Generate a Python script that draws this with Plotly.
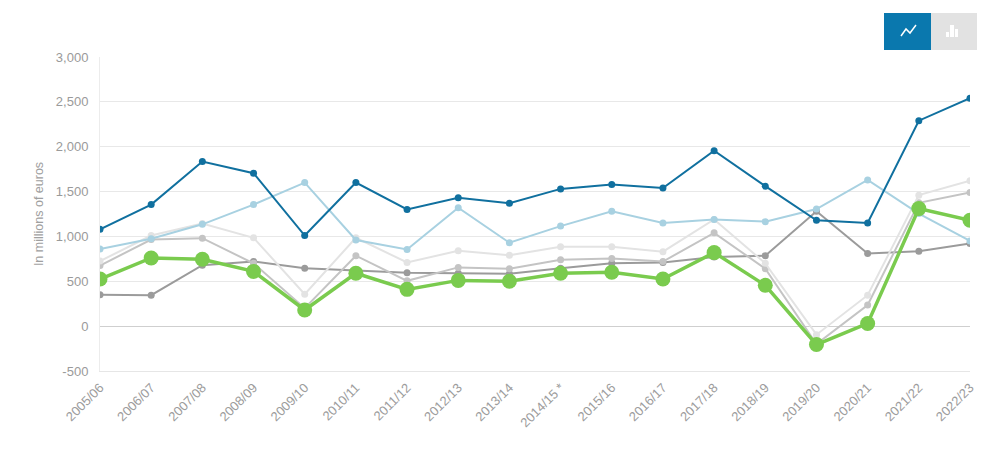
import plotly.graph_objects as go

# Fiscal years on the x axis
years = ["2005/06", "2006/07", "2007/08", "2008/09", "2009/10", "2010/11",
         "2011/12", "2012/13", "2013/14", "2014/15 *", "2015/16", "2016/17",
         "2017/18", "2018/19", "2019/20", "2020/21", "2021/22", "2022/23"]

# Series values in millions of euros
dark_grey = [350, 345, 680, 720, 645, 620, 595, 590, 585, 645, 700, 710,
             770, 785, 1280, 810, 835, 920]
mid_grey = [675, 965, 980, 700, 200, 785, 505, 655, 640, 740, 755, 720,
            1040, 640, -200, 235, 1375, 1490]
light_grey = [725, 1010, 1145, 985, 355, 985, 710, 840, 790, 885, 885, 830,
              1190, 700, -95, 345, 1460, 1620]
light_blue = [860, 975, 1135, 1355, 1600, 960, 855, 1320, 930, 1115, 1280, 1150,
              1190, 1165, 1305, 1630, 1255, 950]
dark_blue = [1080, 1355, 1835, 1705, 1010, 1600, 1300, 1430, 1370, 1530, 1580, 1540,
             1955, 1560, 1180, 1150, 2290, 2540]
green = [525, 760, 745, 610, 180, 590, 410, 510, 500, 590, 600, 525,
         820, 455, -205, 30, 1310, 1180]

y_ticks = [-500, 0, 500, 1000, 1500, 2000, 2500, 3000]
y_labels = [f"{v:,}" for v in y_ticks]

fig = go.Figure()

series = [
    (dark_grey, "#9b9b9b", 2, 7),
    (mid_grey, "#c4c4c4", 2, 7),
    (light_grey, "#e3e3e3", 2, 7),
    (light_blue, "#a8d1e1", 2, 7),
    (dark_blue, "#10709f", 2, 7),
    (green, "#7acb4e", 3.5, 15),
]
for vals, col, lw, ms in series:
    fig.add_trace(go.Scatter(
        x=years, y=vals, mode="lines+markers",
        line=dict(color=col, width=lw),
        marker=dict(color=col, size=ms),
        showlegend=False, hoverinfo="skip"))

# plot area in page pixels: x 100..970, y 57..371 (page body has an 8px margin)
def px(x):
    return (x - 100) / 870

def py(y):
    return (371 - y) / 314

shapes = [
    # toggle buttons
    dict(type="rect", xref="paper", yref="paper", x0=px(884), x1=px(931),
         y0=py(50), y1=py(13), fillcolor="#0a78ae", line=dict(width=0), layer="above"),
    dict(type="rect", xref="paper", yref="paper", x0=px(931), x1=px(977),
         y0=py(50), y1=py(13), fillcolor="#e2e2e2", line=dict(width=0), layer="above"),
]
# line icon (zigzag)
zig = [(901, 36), (906, 29), (910, 33), (916, 25)]
path = "M " + " L ".join(f"{px(a)},{py(b)}" for a, b in zig)
shapes.append(dict(type="path", xref="paper", yref="paper", path=path,
                   line=dict(color="white", width=1.5)))
# bar icon
for x0, x1, top in [(946, 949, 32), (950, 954, 25), (955, 958, 29)]:
    shapes.append(dict(type="rect", xref="paper", yref="paper",
                       x0=px(x0), x1=px(x1), y0=py(37), y1=py(top),
                       fillcolor="white", line=dict(width=0)))

fig.update_layout(
    width=1000, height=457,
    margin=dict(l=92, r=38, t=49, b=94),
    paper_bgcolor="white", plot_bgcolor="white",
    font=dict(family="Liberation Sans, Arial, sans-serif", color="#9a9a9a", size=12),
    shapes=shapes,
    xaxis=dict(
        type="category", range=[0, len(years) - 1], tickangle=-45,
        showgrid=False, ticks="", tickfont=dict(size=13, color="#9c9c9c"),
        ticklabelstandoff=3,
        zeroline=False, showline=True, linecolor="#e6e6e6", linewidth=1,
    ),
    yaxis=dict(
        range=[-500, 3000], tickvals=y_ticks, ticktext=y_labels,
        showgrid=True, gridcolor="#e8e8e8", gridwidth=1,
        zeroline=True, zerolinecolor="#cfcfcf", zerolinewidth=1,
        showline=True, linecolor="#ececec", linewidth=1,
        ticks="", ticklabelstandoff=8,
        tickfont=dict(size=13, color="#9a9a9a"),
        title=dict(text="In millions of euros", font=dict(size=12.5, color="#a0a0a0"),
                   standoff=9),
    ),
)

fig.write_html("out.html")
